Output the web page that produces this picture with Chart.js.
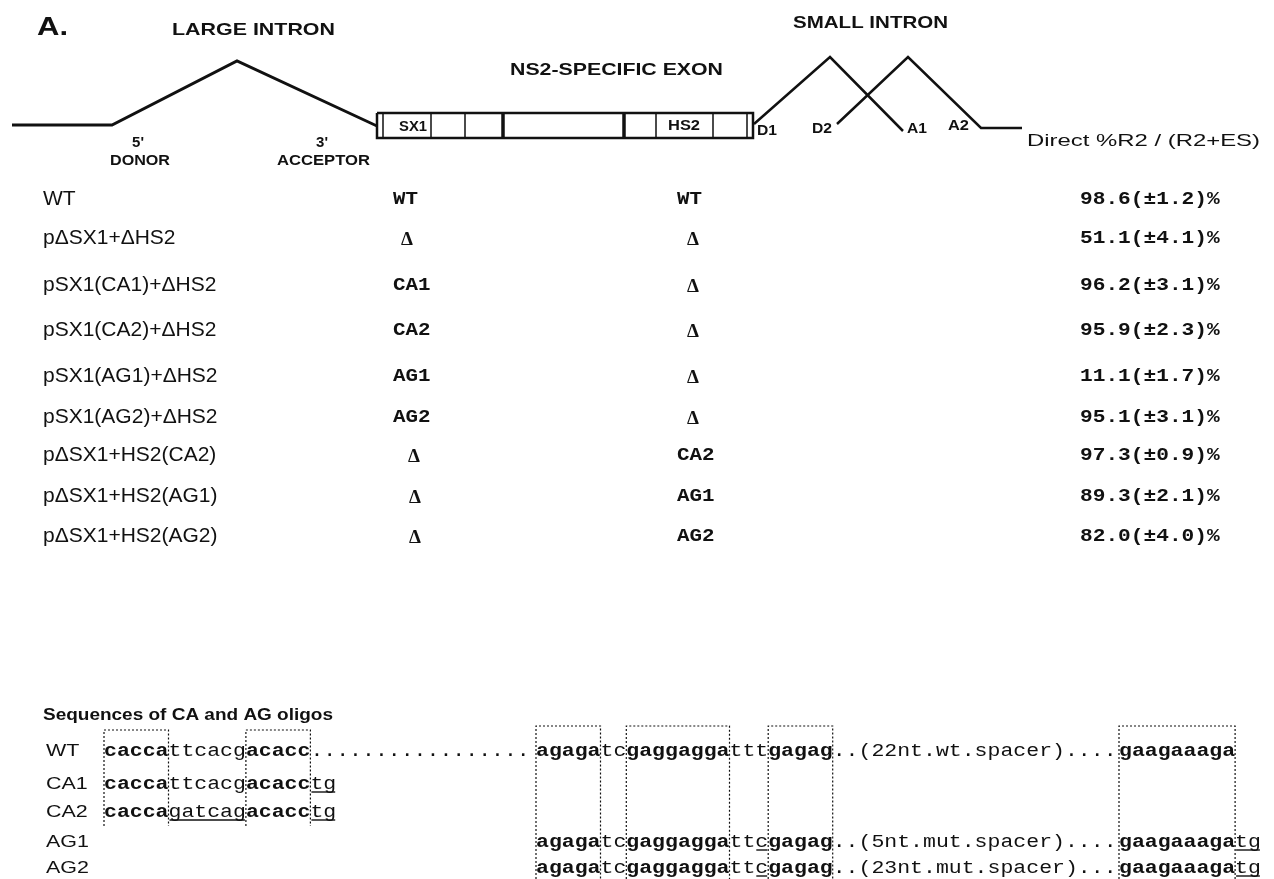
<!DOCTYPE html>
<html>
<head>
<meta charset="utf-8">
<script src="https://cdn.jsdelivr.net/npm/chart.js@4.4.1/dist/chart.umd.min.js"></script>
<style>
  html, body { margin: 0; padding: 0; background: #ffffff; }
  #wrap { width: 1274px; height: 879px; }
</style>
</head>
<body>
<div id="wrap"><canvas id="fig" width="1274" height="879"></canvas></div>
<script>
// ================= DATA =================
const constructs = ['WT', 'p\u0394SX1+\u0394HS2', 'pSX1(CA1)+\u0394HS2', 'pSX1(CA2)+\u0394HS2',
  'pSX1(AG1)+\u0394HS2', 'pSX1(AG2)+\u0394HS2', 'p\u0394SX1+HS2(CA2)', 'p\u0394SX1+HS2(AG1)', 'p\u0394SX1+HS2(AG2)'];
const sx1State = ['WT', '\u0394', 'CA1', 'CA2', 'AG1', 'AG2', '\u0394', '\u0394', '\u0394'];
const hs2State = ['WT', '\u0394', '\u0394', '\u0394', '\u0394', '\u0394', 'CA2', 'AG1', 'AG2'];
const directPct = [98.6, 51.1, 96.2, 95.9, 11.1, 95.1, 97.3, 89.3, 82.0];
const directErr = [1.2, 4.1, 3.1, 2.3, 1.7, 3.1, 0.9, 2.1, 4.0];
const resultTitle = 'Direct %R2 / (R2+ES)';

// oligo sequences: [..] = bold, {..} = underlined (mutated / added bases)
const oligoNames = ['WT', 'CA1', 'CA2', 'AG1', 'AG2'];
const oligoCA = ['[cacca]ttcacg[acacc].................', '[cacca]ttcacg[acacc]{tg}', '[cacca]{gatcag}[acacc]{tg}', '', ''];
const oligoAG = ['[agaga]tc[gaggagga]ttt[gagag]..(22nt.wt.spacer)....', '', '',
  '[agaga]tc[gaggagga]tt{c}[gagag]..(5nt.mut.spacer)....', '[agaga]tc[gaggagga]tt{c}[gagag]..(23nt.mut.spacer)...'];
const oligoTail = ['[gaagaaaga]', '', '', '[gaagaaaga]{tg}', '[gaagaaaga]{tg}'];
// boxed motifs, as [first char, last char + 1] of each group
const motifCA = [[0, 5], [11, 16]];
const motifAG = [[0, 5], [7, 15], [18, 23]];
const motifTail = [[0, 9]];

// gene schematic (diagram units)
const largeIntron = [[12, 125], [112, 125], [237, 61], [377, 126]];
const smallIntron1 = [[754, 124], [830, 57], [903, 131]];
const smallIntron2 = [[837, 124], [908, 57], [981, 128], [1022, 128]];
const exonSpan = [377, 753];
const exonEdges = [113, 138];
const exonDividers = [383, 431, 465, 503, 624, 656, 713, 747];
const dividerHeavy = [false, false, false, true, true, false, false, false];

// ================= LAYOUT / STYLE =================
const INK = '#111111';
const SANS = '"Liberation Sans", Arial, Helvetica, sans-serif';
const MONO = '"Liberation Mono", "Courier New", monospace';
const SERIF = '"Liberation Serif", "Times New Roman", serif';
const rowCenterY = [199, 238, 285, 330, 376, 417, 455, 496, 536];
const colName = 43, colSX1 = 393, colHS2 = 677, colVal = 1080;
const colSX1Delta = [0, 407, 0, 0, 0, 0, 414, 415, 415];
const colHS2Delta = 693;
const seqBaseY = [756, 789, 817, 847, 873];
const seqLabelX = 46, grpCA = 104, grpAG = 536, grpTail = 1119, seqCW = 12.9;
const boxCAY = [730, 826], boxAGY = [726, 879];

// ================= DATASETS =================
const pts = a => a.map(p => ({ x: p[0], y: p[1] }));
const lineDs = (data, width, dash) => ({
  data, showLine: true, borderColor: INK, borderWidth: width, pointRadius: 0,
  borderDash: dash || [], fill: false, tension: 0, clip: false,
  borderJoinStyle: 'miter', borderCapStyle: 'butt'
});
const datasets = [];
datasets.push(lineDs(pts(largeIntron), 3));
datasets.push(lineDs(pts(smallIntron1), 2.5));
datasets.push(lineDs(pts(smallIntron2), 2.5));
datasets.push(lineDs([{ x: exonSpan[0], y: exonEdges[0] }, { x: exonSpan[1], y: exonEdges[0] },
  { x: exonSpan[1], y: exonEdges[1] }, { x: exonSpan[0], y: exonEdges[1] }, { x: exonSpan[0], y: exonEdges[0] }], 2.5));
exonDividers.forEach((dx, i) => datasets.push(lineDs([{ x: dx, y: exonEdges[0] }, { x: dx, y: exonEdges[1] }], dividerHeavy[i] ? 3.5 : 1.5)));
function boxDs(start, range, ys) {
  const x0 = start + range[0] * seqCW, x1 = start + range[1] * seqCW;
  return lineDs([{ x: x0, y: ys[1] }, { x: x0, y: ys[0] }, { x: x1, y: ys[0] }, { x: x1, y: ys[1] }], 1.2, [2, 2]);
}
motifCA.forEach(r => datasets.push(boxDs(grpCA, r, boxCAY)));
motifAG.forEach(r => datasets.push(boxDs(grpAG, r, boxAGY)));
motifTail.forEach(r => datasets.push(boxDs(grpTail, r, boxAGY)));

// ================= TEXT =================
function drawText(ctx, str, x, y, o) {
  ctx.save();
  ctx.font = (o.weight || 'normal') + ' ' + o.size + 'px ' + (o.family || SANS);
  ctx.fillStyle = INK;
  ctx.textBaseline = o.baseline || 'alphabetic';
  ctx.textAlign = 'left';
  const w0 = ctx.measureText(str).width;
  const sx = o.width ? o.width / w0 : (o.stretch || 1);
  let x0 = x;
  if (o.align === 'center') x0 = x - w0 * sx / 2;
  else if (o.align === 'right') x0 = x - w0 * sx;
  ctx.translate(x0, y);
  ctx.scale(sx, 1);
  ctx.fillText(str, 0, 0);
  ctx.restore();
}
function drawMono(ctx, markup, x, y, cw, size, baseline) {
  const runs = [];
  let bold = false, ul = false, cur = null, col = 0;
  for (const ch of markup) {
    if (ch === '[') { bold = true; cur = null; continue; }
    if (ch === ']') { bold = false; cur = null; continue; }
    if (ch === '{') { ul = true; cur = null; continue; }
    if (ch === '}') { ul = false; cur = null; continue; }
    if (!cur) { cur = { s: '', bold, ul, col }; runs.push(cur); }
    cur.s += ch; col++;
  }
  const sx = cw / (0.6 * size);
  runs.forEach(r => {
    ctx.save();
    ctx.font = (r.bold ? 'bold ' : 'normal ') + size + 'px ' + MONO;
    ctx.fillStyle = INK;
    ctx.textBaseline = baseline || 'alphabetic';
    ctx.textAlign = 'left';
    ctx.translate(x + r.col * cw, y);
    ctx.scale(sx, 1);
    ctx.fillText(r.s, 0, 0);
    ctx.restore();
    if (r.ul) {
      ctx.save();
      ctx.strokeStyle = INK; ctx.lineWidth = 1.4;
      ctx.beginPath();
      ctx.moveTo(x + r.col * cw + 1, y + 3);
      ctx.lineTo(x + (r.col + r.s.length) * cw - 1, y + 3);
      ctx.stroke();
      ctx.restore();
    }
  });
}

const textPlugin = {
  id: 'figText',
  afterDatasetsDraw(chart) {
    const ctx = chart.ctx;
    const X = v => chart.scales.x.getPixelForValue(v);
    const Y = v => chart.scales.y.getPixelForValue(v);
    const B = 'bold';
    // schematic labels
    drawText(ctx, 'A.', X(37), Y(35), { size: 25, weight: B, width: 31 });
    drawText(ctx, 'LARGE INTRON', X(172), Y(35), { size: 16.5, weight: B, width: 163 });
    drawText(ctx, 'NS2-SPECIFIC EXON', X(510), Y(75), { size: 16.5, weight: B, width: 213 });
    drawText(ctx, 'SMALL INTRON', X(793), Y(28), { size: 16.5, weight: B, width: 155 });
    drawText(ctx, "5'", X(138), Y(147), { size: 15, weight: B, align: 'center' });
    drawText(ctx, 'DONOR', X(110), Y(165), { size: 15.5, weight: B, width: 60 });
    drawText(ctx, "3'", X(322), Y(147), { size: 15, weight: B, align: 'center' });
    drawText(ctx, 'ACCEPTOR', X(277), Y(165), { size: 15.5, weight: B, width: 93 });
    drawText(ctx, 'SX1', X(399), Y(131), { size: 14, weight: B, width: 28 });
    drawText(ctx, 'HS2', X(668), Y(130), { size: 14.5, weight: B, width: 32 });
    drawText(ctx, 'D1', X(757), Y(135), { size: 14, weight: B, width: 20 });
    drawText(ctx, 'D2', X(812), Y(133), { size: 14, weight: B, width: 20 });
    drawText(ctx, 'A1', X(907), Y(133), { size: 14, weight: B, width: 20 });
    drawText(ctx, 'A2', X(948), Y(130), { size: 14, weight: B, width: 21 });
    drawText(ctx, resultTitle, X(1027), Y(146), { size: 17, width: 233 });

    // construct table
    constructs.forEach((name, i) => {
      const y = Y(rowCenterY[i]);
      drawText(ctx, name, X(colName), y, { size: 21, baseline: 'middle' });
      const s = sx1State[i], h = hs2State[i];
      if (s === '\u0394') drawText(ctx, s, X(colSX1Delta[i]), Y(rowCenterY[i] + 7), { size: 19, weight: B, family: SERIF, align: 'center' });
      else drawMono(ctx, '[' + s + ']', X(colSX1), y, 12.5, 18, 'middle');
      if (h === '\u0394') drawText(ctx, h, X(colHS2Delta), Y(rowCenterY[i] + 7), { size: 19, weight: B, family: SERIF, align: 'center' });
      else drawMono(ctx, '[' + h + ']', X(colHS2), y, 12.5, 18, 'middle');
      const label = directPct[i].toFixed(1) + '(\u00B1' + directErr[i].toFixed(1) + ')%';
      drawMono(ctx, '[' + label + ']', X(colVal), y, 12.7, 18, 'middle');
    });

    // sequences
    drawText(ctx, 'Sequences of CA and AG oligos', X(43), Y(720), { size: 16, weight: B, width: 290 });
    oligoNames.forEach((n, i) => {
      const y = Y(seqBaseY[i]);
      drawText(ctx, n, X(seqLabelX), y, { size: 16.5, stretch: 1.3 });
      if (oligoCA[i]) drawMono(ctx, oligoCA[i], X(grpCA), y, seqCW, 18);
      if (oligoAG[i]) drawMono(ctx, oligoAG[i], X(grpAG), y, seqCW, 18);
      if (oligoTail[i]) drawMono(ctx, oligoTail[i], X(grpTail), y, seqCW, 18);
    });
  }
};

new Chart(document.getElementById('fig'), {
  type: 'scatter',
  data: { datasets },
  options: {
    responsive: false,
    animation: false,
    devicePixelRatio: 1,
    layout: { padding: 0 },
    events: [],
    plugins: { legend: { display: false }, tooltip: { enabled: false } },
    scales: {
      x: { type: 'linear', min: 0, max: 1274, display: false },
      y: { type: 'linear', min: 0, max: 879, reverse: true, display: false }
    }
  },
  plugins: [textPlugin]
});
</script>
</body>
</html>
